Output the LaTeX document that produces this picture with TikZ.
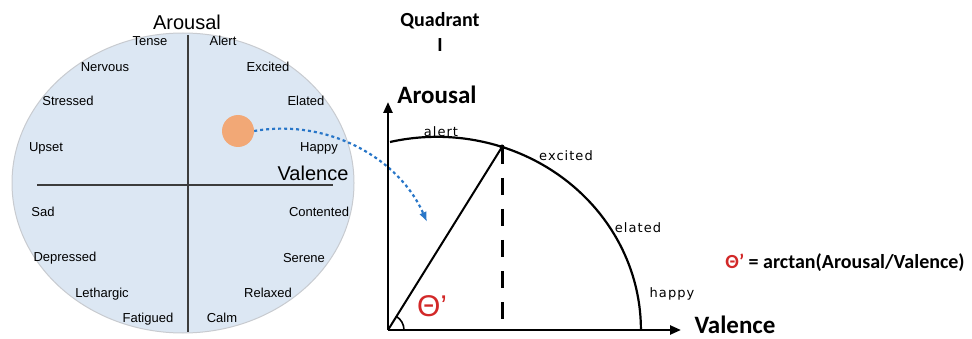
\documentclass[tikz,border=0pt]{standalone}
\usepackage{fontspec}
\setmainfont{Liberation Sans}
\newfontfamily\calfont{Carlito}
\newfontfamily\lblfont[LetterSpace=8]{DejaVu Sans}
\usetikzlibrary{arrows.meta}
\definecolor{circBg}{RGB}{220,231,243}
\definecolor{circRim}{RGB}{200,203,208}
\definecolor{dotOr}{RGB}{242,168,118}
\definecolor{arrBlue}{RGB}{40,118,200}
\definecolor{thRed}{RGB}{210,40,40}
\definecolor{axGray}{RGB}{60,60,60}

\begin{document}
\begin{tikzpicture}[x=1pt,y=-1pt]
  \tikzset{emo/.style={font=\fontsize{13}{15}\selectfont,inner sep=0pt},
    bigax/.style={font=\calfont\bfseries\fontsize{25}{28}\selectfont,inner sep=0pt},
    lbl/.style={font=\lblfont\fontsize{13}{15}\selectfont,inner sep=0pt},
    axis/.style={line width=2.4pt,-{Triangle[length=11pt,width=9pt]}}}
  \useasboundingbox (0,0) rectangle (972,339);
  % circumplex circle
  \fill[circBg,draw=circRim,line width=1pt] (183,183) ellipse[x radius=171,y radius=150];
  \draw[axGray,line width=2pt] (188,35) -- (188,332);
  \draw[axGray,line width=2pt] (37,185) -- (333,185);
  \node[emo,font=\fontsize{20}{22}\selectfont] (arL) at (187,22) {Arousal};
  \node[emo,font=\fontsize{20}{22}\selectfont] (vaL) at (313,173) {Valence};
  \foreach \w/\px/\py in {Tense/150/41,Alert/223/41,Nervous/105/67,Excited/268/67,
      Stressed/68/101,Elated/306/101,Upset/46/148,Happy/319/148,Sad/43/212,
      Contented/319/212,Depressed/65/258,Serene/304/258,Lethargic/102/294,
      Relaxed/268/293,Fatigued/148/319,Calm/222/318} {
    \node[emo] (\w) at (\px,\py) {\w};
  }
  \node[circle,fill=dotOr,minimum size=32pt,inner sep=0pt] (dot) at (238,131) {};
  \coordinate (tip) at (427,222);
  \draw[arrBlue,line width=2.2pt,dash pattern=on 3pt off 3pt,-{Latex[length=10pt,width=8pt]}]
    (dot.east) .. controls (330,118) and (400,160) .. (tip);
  % quadrant I
  \coordinate (O) at (388,330);
  \coordinate (ytip) at (388,102);
  \coordinate (xtip) at (681,330);
  \coordinate (P) at (502,147);
  \draw[axis] (O) -- (ytip);
  \draw[axis] (O) -- (xtip);
  \draw[line width=2.2pt] (390,142) arc[start angle=-103.3,end angle=0,x radius=204,y radius=193];
  \draw[line width=2pt] (O) -- (P);
  \draw[line width=3pt,dash pattern=on 17pt off 14pt] (P) -- (P |- O);
  \fill (P) circle[radius=2.5];
  \draw[line width=1.6pt] (404,330) arc[start angle=0,end angle=-58,radius=16];
  \node[font=\calfont\bfseries\fontsize{20}{25}\selectfont,align=center,inner sep=0pt] (quad) at (440,32) {Quadrant\\I};
  \node[bigax] (arR) at (437,95) {Arousal};
  \node[bigax] (vaR) at (735,325) {Valence};
  \node[lbl] (alert) at (441,132) {alert};
  \node[lbl] (excited) at (566,156) {excited};
  \node[lbl] (elated) at (638,228) {elated};
  \node[lbl] (happy) at (672,294) {happy};
  \node[font=\fontsize{30}{32}\selectfont,text=thRed,inner sep=0pt] (theta) at (432,306) {Θ’};
  \node[font=\calfont\bfseries\fontsize{20}{22}\selectfont,inner sep=0pt] (formula) at (845,263)
    {\textcolor{thRed}{Θ’} = arctan(Arousal/Valence)};
\end{tikzpicture}
\end{document}
